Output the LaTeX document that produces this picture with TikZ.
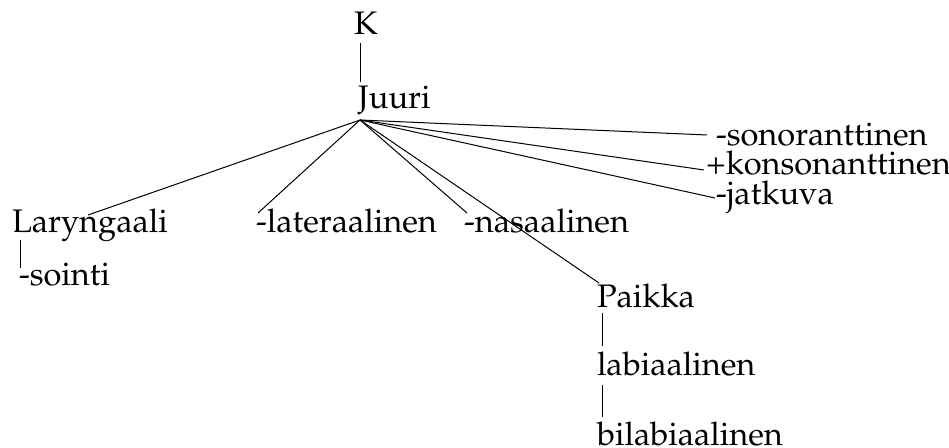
\documentclass[tikz,border=0pt]{standalone}
\usepackage[T1]{fontenc}
\usepackage{mathpazo}
\begin{document}
\begin{tikzpicture}[x=0.5pt, y=-0.5pt,
  lbl/.style={inner sep=0pt, outer sep=0pt, anchor=base west, font=\fontsize{16.3}{20}\selectfont},
  branch/.style={line width=0.5pt, black}]
\useasboundingbox (0,0) rectangle (949,448);

% feature tree nodes
\node[lbl] (k)      at (354,35)  {K};
\node[lbl] (juuri)  at (358,109) {Juuri};
\node[lbl] (lar)    at (12,233)  {Laryngaali};
\node[lbl] (soin)   at (19,286)  {-sointi};
\node[lbl] (lat)    at (256,233) {-lateraalinen};
\node[lbl] (nas)    at (464,233) {-nasaalinen};
\node[lbl] (paikka) at (597,308) {Paikka};
\node[lbl] (lab)    at (597,376) {labiaalinen};
\node[lbl] (bilab)  at (597,446) {bilabiaalinen};
\node[lbl] (son)    at (716,146) {-sonoranttinen};
\node[lbl] (kon)    at (706,175) {+konsonanttinen};
\node[lbl] (jat)    at (716,205) {-jatkuva};

% branching point under the root
\coordinate (fan) at ([shift={(2,11)}]juuri.base west);

% vertical links
\draw[branch] ([shift={(6,8)}]k.base west) -- ([shift={(2,-27)}]juuri.base west);
\draw[branch] ([shift={(8,7)}]lar.base west) -- ([shift={(1,-18)}]soin.base west);
\draw[branch] ([shift={(5,5)}]paikka.base west) -- ([shift={(5,-30)}]lab.base west);
\draw[branch] ([shift={(5,9)}]lab.base west) -- ([shift={(5,-29)}]bilab.base west);

% fan of dependents of Juuri
\draw[branch] (fan) -- ([shift={(76,-18)}]lar.base west);
\draw[branch] (fan) -- ([shift={(2,-20)}]lat.base west);
\draw[branch] (fan) -- ([shift={(3,-20)}]nas.base west);
\draw[branch] (fan) -- ([shift={(2,-25)}]paikka.base west);
\draw[branch] (fan) -- ([shift={(-9,-11)}]son.base west);
\draw[branch] (fan) -- ([shift={(-2,-5)}]kon.base west);
\draw[branch] (fan) -- ([shift={(-1,-7)}]jat.base west);
\end{tikzpicture}
\end{document}
